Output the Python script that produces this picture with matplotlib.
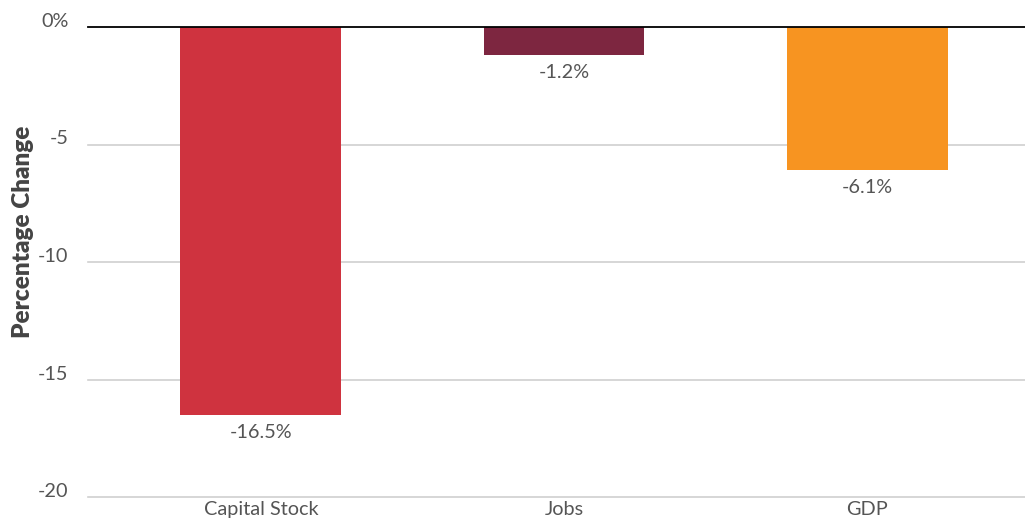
import matplotlib
matplotlib.use("Agg")
import matplotlib.pyplot as plt
from matplotlib.transforms import ScaledTranslation

categories = ["Capital Stock", "Jobs", "GDP"]
values = [-16.5, -1.2, -6.1]
value_labels = ["-16.5%", "-1.2%", "-6.1%"]
colors = ["#CF333F", "#7D2640", "#F79421"]
yticks = [0, -5, -10, -15, -20]
ytick_labels = ["0%", "-5", "-10", "-15", "-20"]

plt.rcParams['font.family'] = ['Lato', 'DejaVu Sans']
text_color = "#555555"
fs = 14.3

fig = plt.figure(figsize=(10.25, 5.18), dpi=100)
ax = fig.add_axes([88/1025, 21/518, 1 - 88/1025, 470/518])

x = list(range(len(categories)))
ax.bar(x, values, width=0.53, color=colors, zorder=3)

ax.set_ylim(-20, 0)
ax.set_xlim(-0.57, 2.52)
ax.set_yticks(yticks)
ax.set_yticklabels(ytick_labels, fontsize=fs, color=text_color)
ax.set_xticks(x)
ax.set_xticklabels(categories, fontsize=fs, color=text_color)
ax.tick_params(axis='both', length=0)
ax.tick_params(axis='y', pad=14)
ax.tick_params(axis='x', pad=3)
for lab in ax.get_yticklabels():
    lab.set_verticalalignment('baseline')

for t in yticks[1:]:
    ax.axhline(t, color="#d0d0d0", linewidth=1.2, zorder=1, clip_on=False)
ax.axhline(0, color="#000000", linewidth=1.3, zorder=4, clip_on=False)

for s in ax.spines.values():
    s.set_visible(False)

for xi, v, lab in zip(x, values, value_labels):
    ax.annotate(lab, (xi, v), xytext=(0, -12.5), textcoords='offset points',
                ha='center', va='center', fontsize=fs, color=text_color)

ax.set_ylabel("Percentage Change", fontsize=17.5, fontweight='heavy', color="#444444")
ax.yaxis.label.set_verticalalignment('center')
ax.yaxis.set_label_coords(-65/937, 0.564)

fig.savefig("out.png", dpi=100)
